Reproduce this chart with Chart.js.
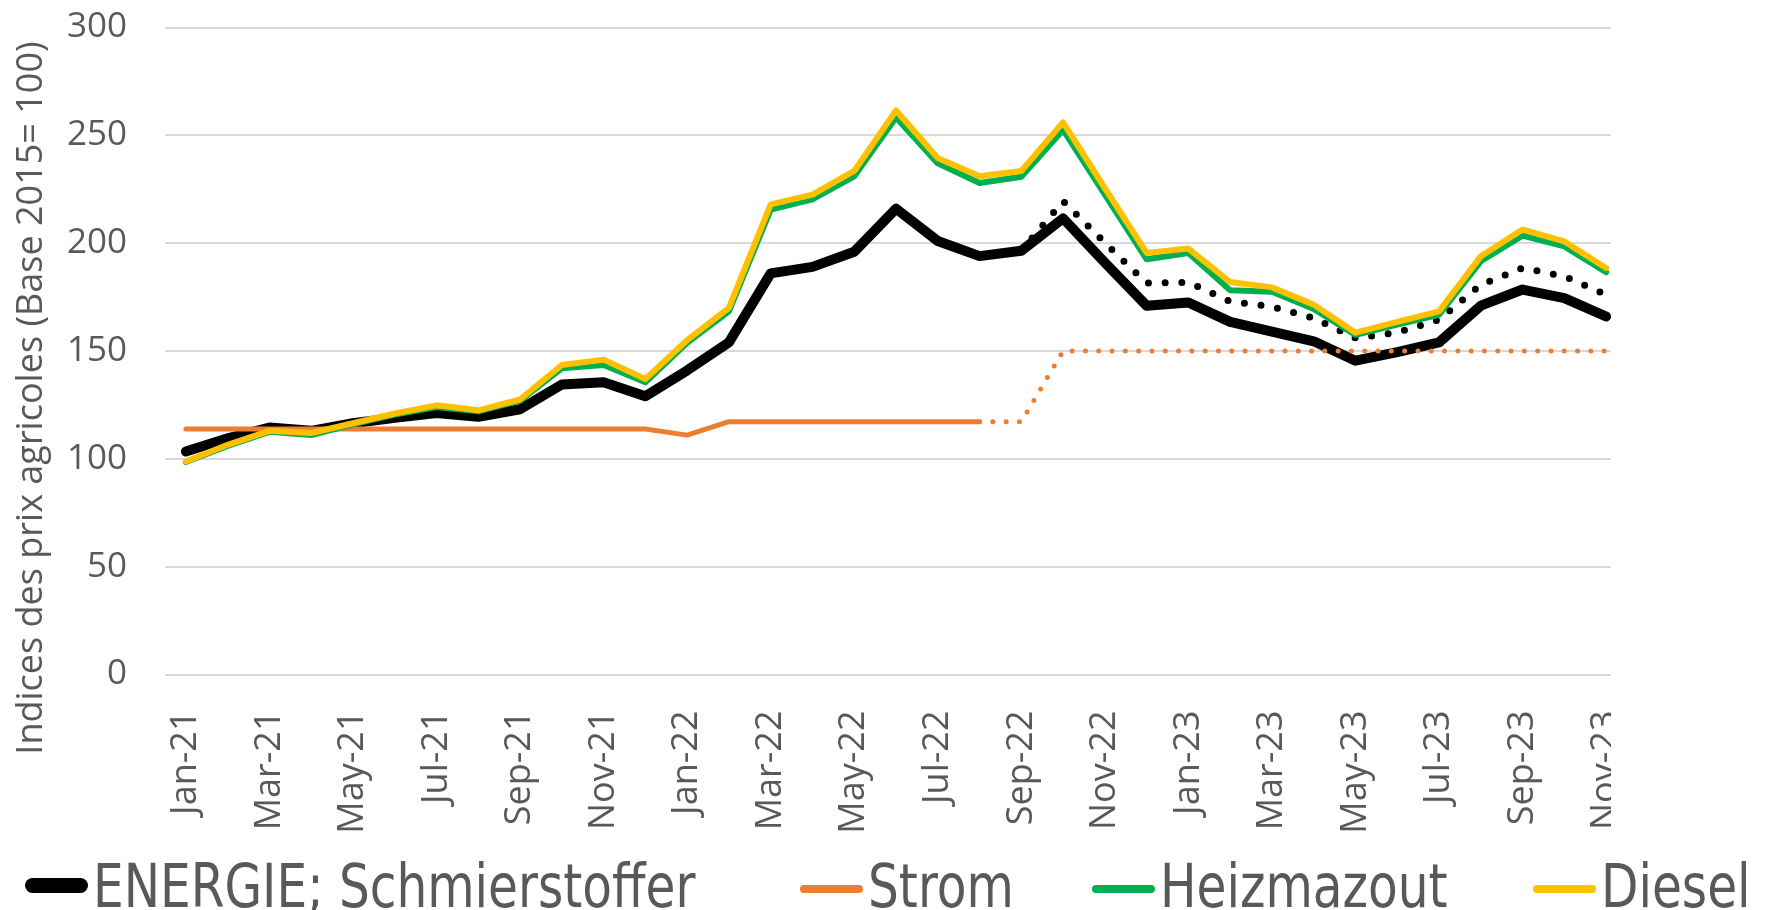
<!DOCTYPE html>
<html>
<head>
<meta charset="utf-8">
<script src="https://cdn.jsdelivr.net/npm/chart.js@4.4.1/dist/chart.umd.min.js"></script>
<style>
  html, body { margin: 0; padding: 0; background: #fff; }
  #page { position: relative; width: 1767px; height: 910px; overflow: hidden; }
  #clip { position: absolute; left: 0; top: 0; width: 1611px; height: 852px; overflow: hidden; }
  .leg { position: absolute; top: 856px; height: 64px; white-space: nowrap;
         font-family: 'DejaVu Sans Condensed', 'Liberation Sans Narrow', sans-serif;
         font-size: 60px; line-height: 60px; color: #595959; }
  .leg i { display: inline-block; width: 63px; border-radius: 8px; margin-right: 5px; vertical-align: 14px; }
  .leg span { display: inline-block; transform: scaleX(0.9); transform-origin: 0 50%; }
</style>
</head>
<body>
<div id="page">
  <div id="clip"><canvas id="chart" width="1767" height="852"></canvas></div>
  <div id="legend"></div>
</div>
<script>
// Monate Jan-21 .. Nov-23
const months = ['Jan-21','Feb-21','Mar-21','Apr-21','May-21','Jun-21','Jul-21','Aug-21','Sep-21','Oct-21','Nov-21','Dec-21',
  'Jan-22','Feb-22','Mar-22','Apr-22','May-22','Jun-22','Jul-22','Aug-22','Sep-22','Oct-22','Nov-22','Dec-22',
  'Jan-23','Feb-23','Mar-23','Apr-23','May-23','Jun-23','Jul-23','Aug-23','Sep-23','Oct-23','Nov-23'];

const energie = [103.4,109.5,114.5,113,116.5,119,121.2,119.5,123,134.5,135.5,129,
  141,154,186,189,196,216,201,194,196.5,211.5,191,171,
  172.5,163.5,159,154.5,145.5,149.5,154,171,178.5,174.5,166];

// gepunktet ab Sep-22
const energieDot = [null,null,null,null,null,null,null,null,null,null,null,null,
  null,null,null,null,null,null,null,null,196.5,219.5,200.2,181.5,
  181.8,173,170.5,165.3,156,158.6,164.5,180.7,188.5,184.6,176.1];

const strom = [113.8,113.8,113.8,113.8,113.8,113.8,113.8,113.8,113.8,113.8,113.8,113.8,
  111,117.2,117.2,117.2,117.2,117.2,117.2,117.2,null,null,null,null,
  null,null,null,null,null,null,null,null,null,null,null];

const stromDot = [null,null,null,null,null,null,null,null,null,null,null,null,
  null,null,null,null,null,null,null,117.2,117.2,150,150,150,
  150,150,150,150,150,150,150,150,150,150,150];

const heizmazout = [98.5,106,112.5,111,116,120.5,124,122,127,142,143.5,135.5,
  153.8,168.4,215.6,220.3,231,258.3,237,227.9,230.8,252.5,222.5,192.5,
  195.4,178.2,177.5,169.5,157.5,162.2,166.8,191.6,203.5,198.5,186.5];

const diesel = [98.8,106.5,113,112,116.5,121,124.8,122.5,127.5,143.5,146,137,
  155,170,218,222.5,233.5,261.5,239.5,231,233.5,256,225.5,195.5,
  197.5,182,179.5,171.5,158.5,163.5,168.4,193.9,206.3,200.8,188.5];

const yTicks = [0, 50, 100, 150, 200, 250, 300];
const yTitle = 'Indices des prix agricoles (Base 2015= 100)';

const grey = '#595959';

// Y-Achsentitel (Excel setzt ihn etwas tiefer als die Mitte)
const yTitlePlugin = {
  id: 'yTitle',
  afterDraw(chart) {
    const ctx = chart.ctx;
    ctx.save();
    ctx.translate(32, 398);
    ctx.rotate(-Math.PI / 2);
    ctx.font = '36px "Open Sans"';
    ctx.fillStyle = grey;
    ctx.textAlign = 'center';
    ctx.textBaseline = 'middle';
    ctx.fillText(yTitle, 0, 0);
    ctx.restore();
  }
};

const ctx = document.getElementById('chart').getContext('2d');
const chart = new Chart(ctx, {
  type: 'line',
  data: {
    labels: months,
    datasets: [
      { label: 'ENERGIE; Schmierstoffer', data: energie, borderColor: '#000000', borderWidth: 10, order: 5, legendW: 15 },
      { label: 'Strom', data: strom, borderColor: '#ED7D31', borderWidth: 5, order: 2, legendW: 8 },
      { label: 'Heizmazout', data: heizmazout, borderColor: '#00B050', borderWidth: 6, order: 1, legendW: 8 },
      { label: 'Diesel', data: diesel, borderColor: '#FFC000', borderWidth: 6, order: 0, legendW: 8 },
      { label: 'energie_dot', data: energieDot, borderColor: '#000000', borderWidth: 7, borderDash: [0, 16.7], order: 4 },
      { label: 'strom_dot', data: stromDot, borderColor: '#ED7D31', borderWidth: 5, borderDash: [0, 13.3], order: 3 }
    ]
  },
  options: {
    responsive: false,
    animation: false,
    spanGaps: false,
    layout: { padding: { top: 27.5, right: 140, left: 0, bottom: 0 } },
    elements: {
      point: { radius: 0, hoverRadius: 0 },
      line: { tension: 0, borderJoinStyle: 'round', borderCapStyle: 'round', fill: false }
    },
    plugins: { legend: { display: false }, tooltip: { enabled: false } },
    scales: {
      x: {
        offset: true,
        grid: { display: false },
        border: { display: false },
        afterFit: s => { s.height = 852 - 674.5; s.paddingLeft = 0; s.paddingRight = 0; },
        ticks: {
          autoSkip: false, minRotation: 90, maxRotation: 90, padding: 28,
          color: grey, font: { family: 'Open Sans', size: 36 },
          callback: (v, i) => (i % 2 === 0 ? months[i] : '')
        }
      },
      y: {
        min: 0, max: 300,
        afterFit: s => { s.width = 165; s.paddingTop = 0; s.paddingBottom = 0; },
        afterBuildTicks: s => { s.ticks = yTicks.map(v => ({ value: v })); },
        grid: { color: '#d9d9d9', lineWidth: 2, drawTicks: false },
        border: { display: false },
        ticks: { padding: 38, color: grey, font: { family: 'Open Sans', size: 35 } }
      }
    }
  },
  plugins: [yTitlePlugin]
});

// Legende wie in Excel, nur die vier Hauptreihen
const legendLeft = [25, 800, 1092, 1533];
const legend = document.getElementById('legend');
chart.data.datasets.slice(0, 4).forEach((ds, i) => {
  const item = document.createElement('div');
  item.className = 'leg';
  item.style.left = legendLeft[i] + 'px';
  item.innerHTML = `<i style="background:${ds.borderColor};height:${ds.legendW}px"></i><span>${ds.label}</span>`;
  legend.appendChild(item);
});
</script>
</body>
</html>
